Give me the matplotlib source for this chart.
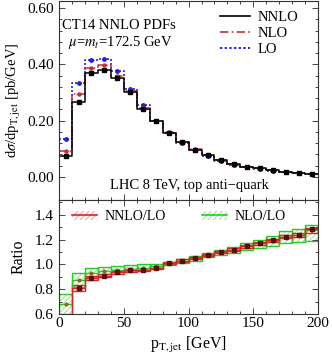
import numpy as np
import matplotlib
matplotlib.use("Agg")
import matplotlib.pyplot as plt
from matplotlib.lines import Line2D
from matplotlib.patches import Patch

plt.rcParams['font.family'] = ['Liberation Serif', 'DejaVu Serif']
plt.rcParams['mathtext.fontset'] = 'stix'
plt.rcParams['hatch.linewidth'] = 0.6

# bin edges in pT,jet [GeV]
edges = np.arange(0, 210, 10)

# top panel: dsigma/dpT [pb/GeV]
nnlo = [0.074, 0.267, 0.370, 0.381, 0.350, 0.302, 0.243, 0.197, 0.157, 0.123,
        0.097, 0.077, 0.060, 0.047, 0.037, 0.030, 0.024, 0.019, 0.015, 0.012]
nlo = [0.092, 0.295, 0.387, 0.396, 0.360, 0.304, 0.246, 0.199, 0.158, 0.124,
       0.098, 0.078, 0.060, 0.047, 0.037, 0.030, 0.024, 0.019, 0.015, 0.012]
lo = [0.136, 0.333, 0.417, 0.419, 0.375, 0.314, 0.255, 0.200, 0.157, 0.122,
      0.094, 0.073, 0.056, 0.043, 0.034, 0.027, 0.021, 0.017, 0.013, 0.011]

# bottom panel: ratios to LO, central and band edges
r_nnlo = [0.54, 0.81, 0.89, 0.91, 0.935, 0.955, 0.955, 0.97, 1.01, 1.03,
          1.05, 1.075, 1.10, 1.12, 1.145, 1.17, 1.195, 1.225, 1.235, 1.285]
r_nnlo_lo = [0.52, 0.785, 0.873, 0.895, 0.92, 0.94, 0.945, 0.96, 1.0, 1.02,
             1.04, 1.065, 1.09, 1.11, 1.135, 1.16, 1.185, 1.21, 1.22, 1.255]
r_nnlo_hi = [0.56, 0.835, 0.91, 0.925, 0.95, 0.965, 0.97, 0.985, 1.02, 1.04,
             1.06, 1.085, 1.11, 1.13, 1.155, 1.18, 1.205, 1.24, 1.25, 1.295]
r_nlo = [0.68, 0.875, 0.93, 0.945, 0.955, 0.965, 0.975, 0.99, 1.01, 1.03,
         1.05, 1.078, 1.10, 1.12, 1.145, 1.17, 1.19, 1.22, 1.235, 1.28]
r_nlo_lo = [0.60, 0.82, 0.90, 0.92, 0.935, 0.945, 0.955, 0.975, 0.995, 1.015,
            1.03, 1.06, 1.08, 1.095, 1.12, 1.13, 1.15, 1.17, 1.18, 1.19]
r_nlo_hi = [0.758, 0.933, 0.968, 0.982, 0.99, 0.995, 1.0, 1.005, 1.02, 1.04,
            1.065, 1.09, 1.115, 1.14, 1.17, 1.20, 1.23, 1.27, 1.29, 1.32]

centers = 0.5 * (edges[:-1] + edges[1:])
width = np.diff(edges)


def steps(vals):
    return np.append(vals, vals[-1])


fig = plt.figure(figsize=(3.32, 3.58), dpi=100)
ax1 = fig.add_axes([0.178, 0.4413, 0.780, 0.556])
ax2 = fig.add_axes([0.178, 0.1229, 0.780, 0.3184])

# ---- top panel ----
ax1.step(edges, steps(lo), where='post', color='#2222dd', ls=(0, (1.2, 1.2)), lw=1.2)
ax1.step(edges, steps(nlo), where='post', color='#c43030', ls=(0, (5, 2, 1, 2)), lw=1.1)
ax1.step(edges, steps(nnlo), where='post', color='black', lw=1.1)
ax1.errorbar(centers, lo, xerr=2, fmt='o', ms=2.5, color='#2222dd', lw=0.8)
ax1.errorbar(centers, nlo, xerr=2, fmt='o', ms=2.2, color='#c43030', lw=0.8)
ax1.errorbar(centers, nnlo, xerr=2, fmt='s', ms=2.4, color='black', lw=0.8)

ax1.set_xlim(0, 200)
ax1.set_ylim(-0.082, 0.625)
ax1.set_yticks([0.0, 0.2, 0.4, 0.6])
ax1.set_yticklabels(['0.00', '0.20', '0.40', '0.60'])
ax1.set_yticks(np.arange(0, 0.62, 0.04), minor=True)
ax1.set_xticks([0, 50, 100, 150, 200])
ax1.set_xticks(np.arange(0, 201, 10), minor=True)
ax1.tick_params(labelbottom=False)
ax1.set_ylabel(r'd$\sigma$/dp$_{\rm T,jet}$ [pb/GeV]', fontsize=10.5, labelpad=3)

ax1.text(0.012, 0.879, 'CT14 NNLO PDFs', transform=ax1.transAxes,
         ha='left', va='center', fontsize=10.5)
ax1.text(0.035, 0.789, r'$\mu$=$m_t$=172.5 GeV', transform=ax1.transAxes,
         ha='left', va='center', fontsize=10.5)
ax1.text(0.504, 0.075, 'LHC 8 TeV, top anti\u2212quark', transform=ax1.transAxes,
         ha='center', va='center', fontsize=10.5)

handles = [Line2D([], [], color='black', lw=1.2),
           Line2D([], [], color='#c43030', lw=1.2, ls=(0, (5, 2, 1, 2))),
           Line2D([], [], color='#2222dd', lw=1.4, ls=(0, (1.2, 1.2)))]
ax1.legend(handles, ['NNLO', 'NLO', 'LO'], loc='upper left', frameon=False,
           fontsize=10.5, handlelength=2.1, handletextpad=0.5, labelspacing=0.2,
           borderaxespad=0.0, borderpad=0.0, bbox_to_anchor=(0.62, 0.95))

# ---- bottom panel ----
def band(ax, lo_v, hi_v, light, strong):
    lo_v = np.array(lo_v)
    hi_v = np.array(hi_v)
    ax.bar(edges[:-1], hi_v - lo_v, bottom=lo_v, width=width, align='edge',
           facecolor='none', edgecolor=light, hatch='//////', lw=0)
    ax.bar(edges[:-1], hi_v - lo_v, bottom=lo_v, width=width, align='edge',
           fill=False, edgecolor=strong, lw=1.0)


band(ax2, r_nlo_lo, r_nlo_hi, '#88dd88', '#22cc22')
band(ax2, r_nnlo_lo, r_nnlo_hi, '#f08a8a', '#dd2222')
ax2.step(edges, steps(r_nlo), where='post', color='#22cc22', lw=1.0)
ax2.step(edges, steps(r_nnlo), where='post', color='#dd2222', lw=1.0)
ax2.errorbar(centers, r_nlo, yerr=0.01, fmt='o', ms=2, color='#996622', lw=0.7)
ax2.errorbar(centers, r_nnlo, yerr=0.012, fmt='s', ms=2.6, color='#551010', lw=0.8)

ax2.set_xlim(0, 200)
ax2.set_ylim(0.6, 1.52)
ax2.set_yticks([0.6, 0.8, 1.0, 1.2, 1.4])
ax2.set_yticks(np.arange(0.6, 1.52, 0.1), minor=True)
ax2.set_xticks([0, 50, 100, 150, 200])
ax2.set_xticks(np.arange(0, 201, 10), minor=True)
ax2.set_ylabel('Ratio', fontsize=11.5, labelpad=6)
ax2.set_xlabel(r'p$_{\rm T,jet}$ [GeV]', fontsize=11.5, labelpad=4)

h_nnlo = (Patch(facecolor='none', edgecolor='#f08a8a', hatch='//////', lw=0),
          Line2D([], [], color='#dd2222', lw=1.2))
h_nlo = (Patch(facecolor='none', edgecolor='#88dd88', hatch='//////', lw=0),
         Line2D([], [], color='#22cc22', lw=1.2))
ax2.legend([h_nnlo, h_nlo], ['NNLO/LO', 'NLO/LO'], loc='upper left', ncol=2,
           frameon=False, fontsize=10, handlelength=1.8, handletextpad=0.55,
           columnspacing=2.6, borderaxespad=0.0, borderpad=0.0,
           bbox_to_anchor=(0.05, 0.91))

for ax in (ax1, ax2):
    ax.tick_params(which='both', direction='in', top=True, right=True,
                   labelsize=11, width=0.7, color='#444444')
    ax.tick_params(which='major', length=4)
    ax.tick_params(which='minor', length=2)
    ax.tick_params(axis='y', pad=4)
    ax.tick_params(axis='x', pad=2)
    for s in ax.spines.values():
        s.set_linewidth(0.8)
        s.set_color('#333333')

fig.savefig('out.png', dpi=100)
